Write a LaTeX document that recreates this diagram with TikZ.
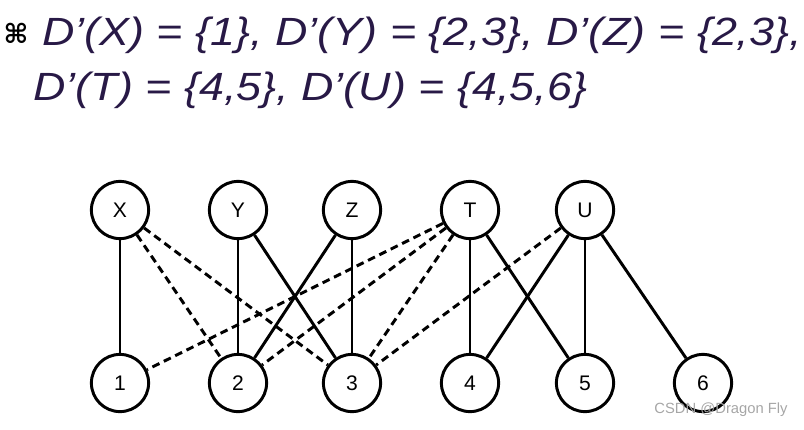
\documentclass[tikz,border=0pt]{standalone}
\usepackage{fontspec}
\setmainfont{Liberation Sans}
\newfontfamily\headfont[FakeStretch=1.14]{Liberation Sans}
\newfontfamily\symfont{DejaVu Sans}
\definecolor{headtext}{RGB}{40,25,70}

\begin{document}
\begin{tikzpicture}[x=0.025cm,y=-0.025cm,
        vertex/.style={circle,draw,line width=2.1pt,minimum size=1.43cm,inner sep=0pt,
            font=\fontsize{15}{15}\selectfont},
        edge/.style={line width=2.1pt},
        maybe/.style={line width=2.1pt,dash pattern=on 5.5pt off 3.5pt}]
\useasboundingbox (0,0) rectangle (804,429);

% heading
\node[anchor=center,font=\symfont\bfseries\fontsize{19}{19}\selectfont] (bullet) at (16,33) {⌘};
\node[anchor=base west,inner sep=0pt,text=headtext,font=\headfont\itshape\fontsize{28}{28}\selectfont] (line1) at (42,45) {D’(X) = \{1\}, D’(Y) = \{2,3\}, D’(Z) = \{2,3\},};
\node[anchor=base west,inner sep=0pt,text=headtext,font=\headfont\itshape\fontsize{28}{28}\selectfont] (line2) at (33,100) {D’(T) = \{4,5\}, D’(U) = \{4,5,6\}};

% vertices
\foreach \n/\x in {X/120,Y/238,Z/352,T/470,U/585}
    \node[vertex] (\n) at (\x,210) {\n};
\foreach \n/\x in {1/120,2/238,3/352,4/470,5/585,6/703}
    \node[vertex] (\n) at (\x,383) {\n};

% edges
\foreach \a/\b in {X/1,Y/2,Y/3,Z/2,Z/3,T/4,T/5,U/4,U/5,U/6}
    \draw[edge] (\a) -- (\b);
\foreach \a/\b in {X/2,X/3,T/1,T/2,T/3,U/3}
    \draw[maybe] (\a) -- (\b);

\node[text=black!35,font=\fontsize{10.5}{11}\selectfont] (mark) at (721,410) {CSDN @Dragon Fly};
\end{tikzpicture}
\end{document}
